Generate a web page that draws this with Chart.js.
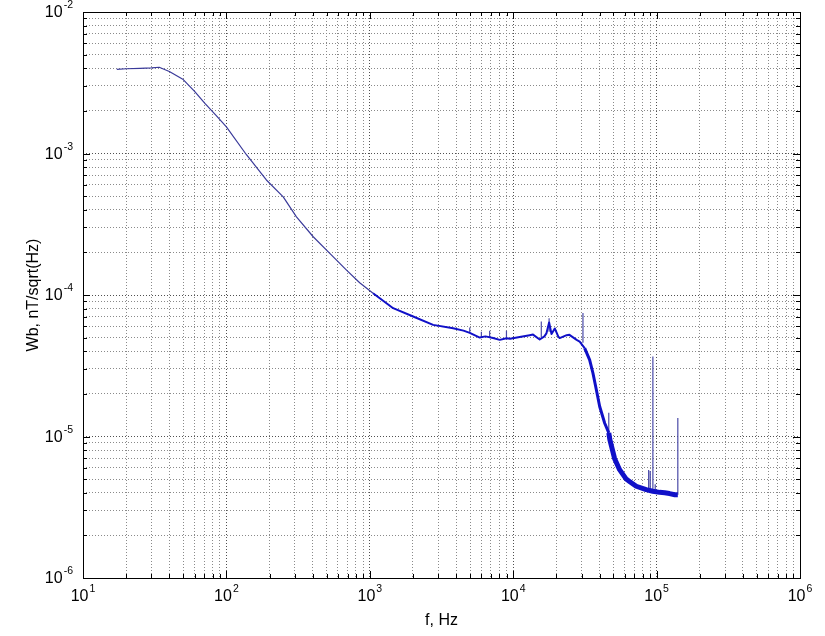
<!DOCTYPE html>
<html>
<head>
<meta charset="utf-8">
<script src="https://cdn.jsdelivr.net/npm/chart.js@4.4.1/dist/chart.umd.min.js"></script>
<style>
html,body{margin:0;padding:0;background:#fff;}
#wrap{width:825px;height:636px;position:relative;}
</style>
</head>
<body>
<div id="wrap"><canvas id="myChart"></canvas></div>
<script>
// spectrum (Hz, nT/sqrt(Hz))
const freq = [17.2, 20, 25, 30, 34, 40, 50, 60, 70.8, 85, 100, 138, 190, 249, 308, 403, 526, 688, 850, 1054,
  1455, 2006, 2763, 3809, 4500, 4977, 5845, 6400, 7236, 8060, 8974, 9500, 11100, 13030, 13750, 15300, 16500,
  17040, 17800, 18500, 19500, 20600, 21090, 23600, 24670, 27700, 29070, 31500, 34120, 35970, 38000, 40090,
  43470, 46400, 47210, 50900, 55200, 61400, 64000, 72100, 84600, 94000, 104900, 114000, 123000, 134000, 140600];
const amp = [3.93e-3, 3.97e-3, 4.0e-3, 4.03e-3, 4.07e-3, 3.8e-3, 3.33e-3, 2.75e-3, 2.26e-3, 1.85e-3, 1.54e-3,
  9.8e-4, 6.5e-4, 4.94e-4, 3.57e-4, 2.58e-4, 1.97e-4, 1.5e-4, 1.22e-4, 1.03e-4,
  8.07e-5, 7.05e-5, 6.15e-5, 5.83e-5, 5.6e-5, 5.4e-5, 5.0e-5, 5.1e-5, 4.96e-5, 4.82e-5, 4.95e-5, 4.9e-5,
  5.05e-5, 5.2e-5, 5.25e-5, 4.85e-5, 5.1e-5, 5.35e-5, 6.4e-5, 5.3e-5, 5.8e-5, 5.1e-5, 4.96e-5, 5.2e-5,
  5.23e-5, 4.82e-5, 4.69e-5, 4.21e-5, 3.48e-5, 2.81e-5, 2.14e-5, 1.63e-5, 1.24e-5, 1.06e-5, 9.5e-6,
  7.0e-6, 5.83e-6, 5.0e-6, 4.85e-6, 4.45e-6, 4.21e-6, 4.1e-6, 4.03e-6, 4.0e-6, 3.95e-6, 3.88e-6, 3.88e-6];

// narrow spectral lines
const spikeFreq = [4977, 6000, 6850, 8974, 15700, 17800, 30650, 46400, 88000, 90300, 94200, 97800, 140600];
const spikeBase = [5.4e-5, 5.1e-5, 5.0e-5, 4.9e-5, 5.0e-5, 5.5e-5, 4.6e-5, 1.06e-5, 4.2e-6, 4.2e-6, 4.1e-6, 4.1e-6, 3.88e-6];
const spikePeak = [5.9e-5, 5.5e-5, 5.6e-5, 5.6e-5, 6.5e-5, 6.85e-5, 7.45e-5, 1.47e-5, 5.8e-6, 5.7e-6, 3.68e-5, 4.6e-6, 1.35e-5];

// decade ticks, labelled 10^exp
const xTicks = [10, 100, 1000, 10000, 100000, 1000000];
const xTickExp = ['1', '2', '3', '4', '5', '6'];
const yTicks = [1e-6, 1e-5, 1e-4, 1e-3, 1e-2];
const yTickExp = ['-6', '-5', '-4', '-3', '-2'];

const FONT = 'Liberation Sans, Arial, Helvetica, sans-serif';

function minorTicks(decades) {
  const out = [];
  for (let i = 0; i < decades.length - 1; i++) {
    for (let k = 1; k <= 9; k++) out.push({value: k * decades[i], major: k === 1});
  }
  out.push({value: decades[decades.length - 1], major: true});
  return out;
}

const mainPts = freq.map((f, i) => ({x: f, y: amp[i]}));
const spikePts = [];
spikeFreq.forEach((f, i) => {
  spikePts.push({x: f, y: spikeBase[i]});
  spikePts.push({x: f, y: spikePeak[i]});
  spikePts.push({x: f, y: null});
});

// draws "10" with a raised exponent; anchor is 'right' (y axis) or 'center' (x axis)
function powLabel(ctx, exp, x, y, anchor) {
  ctx.font = '16px ' + FONT;
  const wb = ctx.measureText('10').width;
  ctx.font = '10.5px ' + FONT;
  const we = ctx.measureText(exp).width;
  const total = wb + 1 + we;
  const x0 = anchor === 'right' ? x - total : x - total / 2;
  ctx.textAlign = 'left';
  ctx.textBaseline = 'middle';
  ctx.font = '16px ' + FONT;
  ctx.fillText('10', x0, y);
  ctx.font = '10.5px ' + FONT;
  ctx.fillText(exp, x0 + wb + 1, y - 7.5);
}

// box, inward tick marks and decade labels like the original axes
const boxPlugin = {
  id: 'box',
  afterDatasetsDraw(chart) {
    const {ctx, chartArea: a, scales} = chart;
    ctx.save();
    ctx.strokeStyle = '#000';
    ctx.lineWidth = 1;
    ctx.beginPath();
    scales.x.ticks.forEach(t => {
      const px = Math.round(scales.x.getPixelForValue(t.value)) + 0.5;
      const len = t.major ? 7 : 4;
      ctx.moveTo(px, a.bottom); ctx.lineTo(px, a.bottom - len);
      ctx.moveTo(px, a.top); ctx.lineTo(px, a.top + len);
    });
    scales.y.ticks.forEach(t => {
      const py = Math.round(scales.y.getPixelForValue(t.value)) + 0.5;
      const len = t.major ? 7 : 4;
      ctx.moveTo(a.left, py); ctx.lineTo(a.left + len, py);
      ctx.moveTo(a.right, py); ctx.lineTo(a.right - len, py);
    });
    ctx.stroke();
    ctx.strokeRect(Math.round(a.left) + 0.5, Math.round(a.top) + 0.5,
      Math.round(a.right - a.left), Math.round(a.bottom - a.top));

    ctx.fillStyle = '#000';
    xTicks.forEach((v, i) => {
      powLabel(ctx, xTickExp[i], scales.x.getPixelForValue(v), a.bottom + 19, 'center');
    });
    yTicks.forEach((v, i) => {
      powLabel(ctx, yTickExp[i], a.left - 10, scales.y.getPixelForValue(v) + 1, 'right');
    });
    ctx.restore();
  }
};

const bg = {
  id: 'bg',
  beforeDraw(chart) {
    const c = chart.ctx;
    c.save(); c.fillStyle = '#fff'; c.fillRect(0, 0, chart.width, chart.height); c.restore();
  }
};

const gridColor = c => c.tick && c.tick.major ? '#505050' : '#8a8a8a';

new Chart(document.getElementById('myChart'), {
  type: 'scatter',
  data: {
    datasets: [{
      data: mainPts,
      showLine: true,
      pointRadius: 0,
      borderColor: '#1515c0',
      borderWidth: 1,
      borderJoinStyle: 'round',
      segment: {
        borderWidth: ctx => {
          const f = ctx.p0.parsed.x;
          if (f < 1000) return 1.2;
          if (f < 30000) return 2;
          if (f < 45000) return 3;
          return 5;
        },
        borderColor: ctx => ctx.p0.parsed.x < 1000 ? '#3a3a9a' : '#1010c8'
      }
    }, {
      data: spikePts,
      showLine: true,
      spanGaps: false,
      pointRadius: 0,
      borderColor: '#4a4aa8',
      borderWidth: 1.2
    }]
  },
  options: {
    responsive: true,
    maintainAspectRatio: false,
    animation: false,
    layout: {padding: {left: 0, top: 12, right: 25, bottom: 0}},
    plugins: {legend: {display: false}, tooltip: {enabled: false}},
    scales: {
      x: {
        type: 'logarithmic',
        min: 10, max: 1000000,
        afterBuildTicks: s => { s.ticks = minorTicks(xTicks); },
        afterFit: s => { s.height = 58; },
        grid: {color: gridColor, lineWidth: 1, drawTicks: false},
        border: {display: false, dash: [1, 2]},
        ticks: {display: false},
        title: {display: true, text: 'f, Hz', color: '#000', font: {family: FONT, size: 16}, padding: {top: 0, bottom: 6}}
      },
      y: {
        type: 'logarithmic',
        min: 1e-6, max: 1e-2,
        afterBuildTicks: s => { s.ticks = minorTicks(yTicks); },
        afterFit: s => { s.width = 83; },
        grid: {color: gridColor, lineWidth: 1, drawTicks: false},
        border: {display: false, dash: [1, 2]},
        ticks: {display: false},
        title: {display: true, text: 'Wb, nT/sqrt(Hz)', color: '#000', font: {family: FONT, size: 16}, padding: {top: 24, bottom: 0}}
      }
    }
  },
  plugins: [bg, boxPlugin]
});
</script>
</body>
</html>
